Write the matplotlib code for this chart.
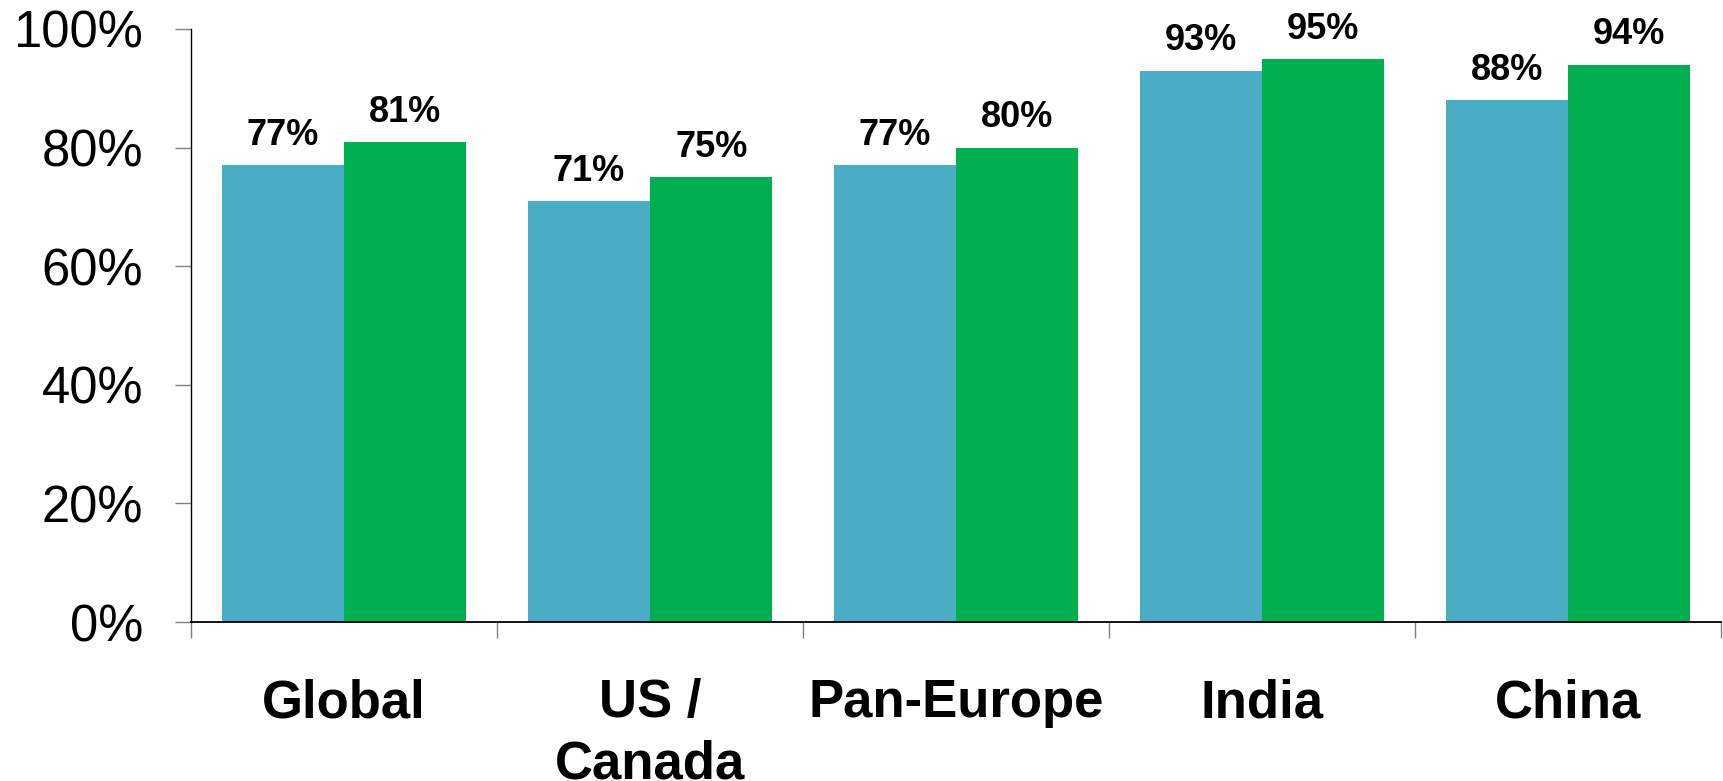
import matplotlib
matplotlib.use("Agg")
import matplotlib.pyplot as plt
import numpy as np

categories = ["Global", "US /\nCanada", "Pan-Europe", "India", "China"]
series_a = [77, 71, 77, 93, 88]
series_b = [81, 75, 80, 95, 94]
ytick_vals = [0, 20, 40, 60, 80, 100]
ytick_labels = ["0%", "20%", "40%", "60%", "80%", "100%"]

color_a = "#4BACC6"
color_b = "#00B050"

plt.rcParams['font.family'] = ['Liberation Sans', 'DejaVu Sans']

fig = plt.figure(figsize=(17.23, 7.81), dpi=100)
ax = fig.add_axes([191/1723, 1 - 622/781, (1721-191)/1723, (622-29)/781])

x = np.arange(len(categories))
w = 0.4
bars_a = ax.bar(x - w/2, series_a, width=w, color=color_a, linewidth=0)
bars_b = ax.bar(x + w/2, series_b, width=w, color=color_b, linewidth=0)

for bars, vals in ((bars_a, series_a), (bars_b, series_b)):
    for b, v in zip(bars, vals):
        ax.annotate(f"{v}%", (b.get_x() + b.get_width()/2, v),
                    xytext=(0, 14.5), textcoords="offset points",
                    ha="center", va="baseline", fontsize=26, fontweight="bold")

ax.set_xlim(-0.5, len(categories) - 0.5)
ax.set_ylim(0, 100)

ax.set_yticks(ytick_vals)
ax.set_yticklabels(ytick_labels)
ax.tick_params(axis="y", direction="out", length=11.5, width=1, color="#808080",
               labelsize=36.5, pad=23)

ax.set_xticks(np.arange(len(categories) + 1) - 0.5)
ax.set_xticklabels([""] * (len(categories) + 1))
ax.tick_params(axis="x", which="major", direction="out", length=11.5, width=1, color="#808080")
ax.set_xticks(x, minor=True)
ax.set_xticklabels(categories, minor=True, fontsize=38, fontweight="bold")
ax.tick_params(axis="x", which="minor", length=0, pad=40.5)
plt.setp(ax.get_xticklabels(minor=True), linespacing=1.3)

for s in ("top", "right"):
    ax.spines[s].set_visible(False)
ax.spines["left"].set_color("black")
ax.spines["bottom"].set_color("black")
ax.spines["left"].set_linewidth(1.0)
ax.spines["bottom"].set_linewidth(1.3)

fig.savefig("out.png", dpi=100)
